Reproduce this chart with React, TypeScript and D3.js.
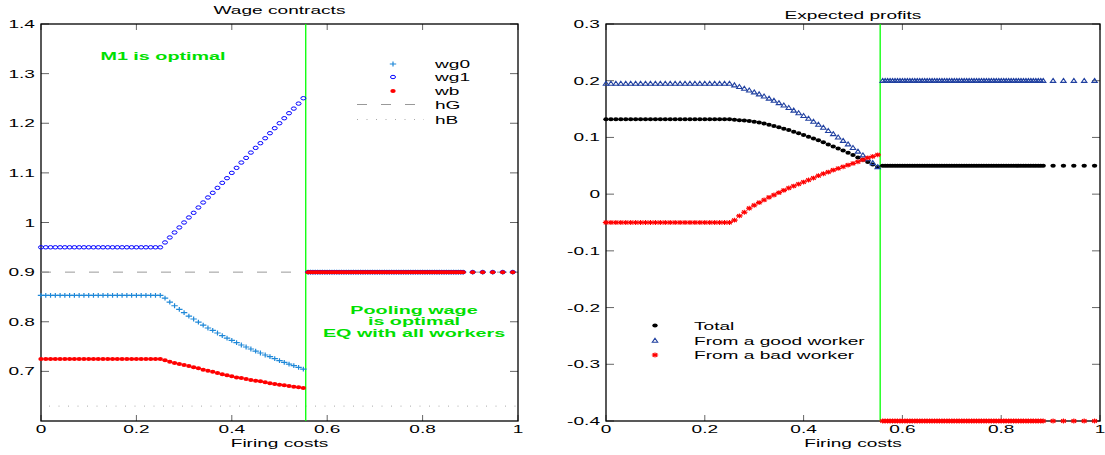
import React from "react";
import * as d3 from "d3";

// ---------- data ----------
const xPre = [0, 0.01, 0.02, 0.03, 0.04, 0.05, 0.06, 0.07, 0.08, 0.09, 0.1, 0.11, 0.12, 0.13, 0.14, 0.15, 0.16, 0.17, 0.18, 0.19, 0.2, 0.21, 0.22, 0.23, 0.24, 0.25];
const xRise = [0.26, 0.27, 0.28, 0.29, 0.3, 0.31, 0.32, 0.33, 0.34, 0.35, 0.36, 0.37, 0.38, 0.39, 0.4, 0.41, 0.42, 0.43, 0.44, 0.45, 0.46, 0.47, 0.48, 0.49, 0.5, 0.51, 0.52, 0.53, 0.54, 0.55];
const xPost = [0.56, 0.565, 0.57, 0.575, 0.58, 0.585, 0.59, 0.595, 0.6, 0.605, 0.61, 0.615, 0.62, 0.625, 0.63, 0.635, 0.64, 0.645, 0.65, 0.655, 0.66, 0.665, 0.67, 0.675, 0.68, 0.685, 0.69, 0.695, 0.7, 0.705, 0.71, 0.715, 0.72, 0.725, 0.73, 0.735, 0.74, 0.745, 0.75, 0.755, 0.76, 0.765, 0.77, 0.775, 0.78, 0.785, 0.79, 0.795, 0.8, 0.805, 0.81, 0.815, 0.82, 0.825, 0.83, 0.835, 0.84, 0.845, 0.85, 0.855, 0.86, 0.865, 0.87, 0.875, 0.88, 0.885, 0.905, 0.926, 0.947, 0.968, 0.989];

// Wage contracts
const wg0Flat = 0.853;
const wg0Rise = [0.8478, 0.8397, 0.8322, 0.8248, 0.8182, 0.8115, 0.8055, 0.7994, 0.7934, 0.7874, 0.7826, 0.7773, 0.7719, 0.7672, 0.7625, 0.7578, 0.7531, 0.7491, 0.7451, 0.741, 0.737, 0.733, 0.7296, 0.7255, 0.7215, 0.7181, 0.7148, 0.7114, 0.7081, 0.7047];
const wg1Flat = 0.95;
const wg1Rise = [0.9598, 0.9698, 0.9799, 0.99, 1.0, 1.0101, 1.0195, 1.0302, 1.0403, 1.0504, 1.0598, 1.0698, 1.0799, 1.0893, 1.1, 1.1101, 1.1208, 1.1302, 1.1409, 1.1504, 1.1598, 1.1698, 1.1799, 1.19, 1.2, 1.2101, 1.2202, 1.2295, 1.2396, 1.2504];
const wbFlat = 0.725;
const wbRise = [0.7222, 0.7195, 0.7169, 0.7148, 0.7128, 0.7108, 0.7081, 0.7061, 0.7034, 0.7014, 0.6994, 0.6967, 0.694, 0.692, 0.69, 0.6879, 0.6866, 0.6846, 0.6826, 0.6812, 0.6799, 0.6779, 0.6759, 0.6745, 0.6732, 0.6718, 0.6705, 0.6692, 0.6678, 0.6665];
const poolingWage = 0.9;
const hG = 0.9;
const hB = 0.63;
const cutoff = 0.555;

// Expected profits
const totalFlat = 0.132;
const totalRise = [0.1311, 0.1305, 0.1298, 0.129, 0.1278, 0.1262, 0.1244, 0.1224, 0.1202, 0.1179, 0.1155, 0.1129, 0.1102, 0.1073, 0.1043, 0.1012, 0.0981, 0.095, 0.0916, 0.0875, 0.0842, 0.0806, 0.0768, 0.0729, 0.0689, 0.0647, 0.0606, 0.0566, 0.0522, 0.0478];
const goodFlat = 0.195;
const goodRise = [0.1922, 0.1893, 0.1863, 0.1831, 0.1798, 0.1763, 0.1726, 0.1688, 0.1649, 0.1608, 0.1566, 0.1522, 0.1477, 0.143, 0.1382, 0.1332, 0.1281, 0.1228, 0.1174, 0.1118, 0.1061, 0.1002, 0.0942, 0.0881, 0.0818, 0.0753, 0.0687, 0.0619, 0.0551, 0.048];
const badFlat = -0.05;
const badRise = [-0.0459, -0.0383, -0.0319, -0.0249, -0.0196, -0.0149, -0.0102, -0.0056, -0.0015, 0.0026, 0.0067, 0.0108, 0.0143, 0.0178, 0.0213, 0.0249, 0.0284, 0.0325, 0.036, 0.0389, 0.0424, 0.0453, 0.0482, 0.0512, 0.0541, 0.057, 0.0605, 0.064, 0.0664, 0.0693];
const totalPost = 0.05;
const goodPost = 0.2;
const badPost = -0.4;

const xTicks = [0, 0.2, 0.4, 0.6, 0.8, 1];
const xTickLabels = ["0", "0.2", "0.4", "0.6", "0.8", "1"];
const leftYTicks = [0.7, 0.8, 0.9, 1.0, 1.1, 1.2, 1.3, 1.4];
const leftYTickLabels = ["0.7", "0.8", "0.9", "1", "1.1", "1.2", "1.3", "1.4"];
const rightYTicks = [-0.4, -0.3, -0.2, -0.1, 0, 0.1, 0.2, 0.3];
const rightYTickLabels = ["-0.4", "-0.3", "-0.2", "-0.1", "0", "0.1", "0.2", "0.3"];

const leftLegend = ["wg0", "wg1", "wb", "hG", "hB"];
const rightLegend = ["Total", "From a good worker", "From a bad worker"];

// ---------- helpers ----------
type Pt = { x: number; y: number };
const series = (flat: number, rise: number[], post: number): Pt[] => [
  ...xPre.map((x) => ({ x, y: flat })),
  ...xRise.map((x, i) => ({ x, y: rise[i] })),
  ...xPost.map((x) => ({ x, y: post })),
];

const FONT = "'Liberation Sans', Arial, Helvetica, sans-serif";
const SX = 1.66;
const GREEN = "#00ff00";
const GREEN_TEXT = "#00e000";

function T({ x, y, anchor = "start", children, bold = false, fill = "#000", sx = SX, size = 11.5 }: any) {
  return (
    <text
      transform={`translate(${x},${y}) scale(${sx},1)`}
      textAnchor={anchor}
      fontFamily={FONT}
      fontSize={size}
      fontWeight={bold ? "bold" : "normal"}
      fill={fill}
    >
      {children}
    </text>
  );
}

const Plus = ({ x, y, c }: any) => (
  <path d={`M${x - 3.2},${y}H${x + 3.2}M${x},${y - 2.4}V${y + 2.4}`} stroke={c} strokeWidth={1.2} fill="none" />
);
const Ring = ({ x, y, c }: any) => <ellipse cx={x} cy={y} rx={2.5} ry={1.7} stroke={c} strokeWidth={1} fill="none" />;
const Dot = ({ x, y, c }: any) => <ellipse cx={x} cy={y} rx={2.7} ry={2} fill={c} />;
const Tri = ({ x, y, c }: any) => (
  <path d={`M${x},${y - 2.3}L${x + 2.7},${y + 1.7}L${x - 2.7},${y + 1.7}Z`} stroke={c} strokeWidth={1.1} fill="none" />
);
const Star = ({ x, y, c }: any) => (
  <path
    d={`M${x - 3.2},${y}H${x + 3.2}M${x},${y - 2.4}V${y + 2.4}M${x - 2.3},${y - 1.8}L${x + 2.3},${y + 1.8}M${x - 2.3},${y + 1.8}L${x + 2.3},${y - 1.8}`}
    stroke={c}
    strokeWidth={1.1}
    fill="none"
  />
);

const TOP = 24;
const BOTTOM = 421;

function Frame({ x, y, yTicks, yLabels }: any) {
  const [x0, x1] = x.range();
  const tickLen = 6;
  return (
    <g>
      {xTicks.map((t, i) => (
        <g key={"xt" + i}>
          <line x1={x(t)} x2={x(t)} y1={BOTTOM} y2={BOTTOM - tickLen} stroke="#666" strokeWidth={1} />
          <line x1={x(t)} x2={x(t)} y1={TOP} y2={TOP + tickLen} stroke="#666" strokeWidth={1} />
          <T x={x(t)} y={BOTTOM + 12} anchor="middle">{xTickLabels[i]}</T>
        </g>
      ))}
      {yTicks.map((t: number, i: number) => (
        <g key={"yt" + i}>
          <line x1={x0} x2={x0 + tickLen + 2} y1={y(t)} y2={y(t)} stroke="#666" strokeWidth={1} />
          <line x1={x1} x2={x1 - tickLen - 2} y1={y(t)} y2={y(t)} stroke="#666" strokeWidth={1} />
          <T x={x0 - 6} y={y(t) + 4} anchor="end">{yLabels[i]}</T>
        </g>
      ))}
      <rect x={x0} y={TOP} width={x1 - x0} height={BOTTOM - TOP} fill="none" stroke="#000" strokeWidth={1.3} />
      <T x={(x0 + x1) / 2} y={BOTTOM + 26} anchor="middle">Firing costs</T>
    </g>
  );
}

export default function App() {
  // Left panel
  const xL = d3.scaleLinear().domain([0, 1]).range([41, 518]);
  const yL = d3.scaleLinear().domain([0.6, 1.4]).range([BOTTOM, TOP]);
  // Right panel
  const xR = d3.scaleLinear().domain([0, 1]).range([606, 1100]);
  const yR = d3.scaleLinear().domain([-0.4, 0.3]).range([BOTTOM, TOP]);

  const wg0 = series(wg0Flat, wg0Rise, poolingWage);
  const wg1 = series(wg1Flat, wg1Rise, poolingWage);
  const wb = series(wbFlat, wbRise, poolingWage);
  const total = series(totalFlat, totalRise, totalPost);
  const good = series(goodFlat, goodRise, goodPost);
  const bad = series(badFlat, badRise, badPost);

  const C_WG0 = "#1e88d8";
  const C_WG1 = "#0000ff";
  const C_RED = "#ff0000";
  const C_GOOD = "#2040a0";

  const legL = { mx: 393, lx0: 357, lx1: 420, tx: 435, ys: [64, 77, 91, 104.5, 119.5] };
  const legR = { mx: 655, tx: 694, ys: [325.5, 340.5, 355] };

  return (
    <svg width={1105} height={455} style={{ position: "absolute", left: 0, top: 0, background: "#fff" }}>
      <rect x={0} y={0} width={1105} height={455} fill="#fff" />

      {/* ===== Left panel ===== */}
      <T x={(xL(0) + xL(1)) / 2} y={14} anchor="middle">Wage contracts</T>
      <Frame x={xL} y={yL} yTicks={leftYTicks} yLabels={leftYTickLabels} />
      <line x1={xL(0)} x2={xL(1)} y1={yL(hG)} y2={yL(hG)} stroke="#999" strokeWidth={1} strokeDasharray="10 14" />
      <line x1={xL(0) + 8} x2={xL(1)} y1={yL(hB)} y2={yL(hB)} stroke="#aaa" strokeWidth={1} strokeDasharray="1 8.5" />
      <line x1={xL(cutoff)} x2={xL(cutoff)} y1={TOP} y2={BOTTOM} stroke={GREEN} strokeWidth={1.3} />
      {wg0.map((p, i) => <Plus key={"a" + i} x={xL(p.x)} y={yL(p.y)} c={C_WG0} />)}
      {wg1.map((p, i) => <Ring key={"b" + i} x={xL(p.x)} y={yL(p.y)} c={C_WG1} />)}
      {wb.map((p, i) => <Dot key={"c" + i} x={xL(p.x)} y={yL(p.y)} c={C_RED} />)}

      {/* left legend */}
      <Plus x={legL.mx} y={legL.ys[0]} c={C_WG0} />
      <Ring x={legL.mx} y={legL.ys[1]} c={C_WG1} />
      <Dot x={legL.mx} y={legL.ys[2]} c={C_RED} />
      <line x1={legL.lx0} x2={legL.lx1} y1={legL.ys[3]} y2={legL.ys[3]} stroke="#999" strokeWidth={1} strokeDasharray="10 14" />
      <line x1={legL.lx0} x2={legL.lx1 + 4} y1={legL.ys[4]} y2={legL.ys[4]} stroke="#aaa" strokeWidth={1} strokeDasharray="1 8.5" />
      {leftLegend.map((s, i) => (
        <T key={"ll" + i} x={legL.tx} y={legL.ys[i] + 4}>{s}</T>
      ))}

      <T x={163} y={60} anchor="middle" bold fill={GREEN_TEXT} sx={1.72}>M1 is optimal</T>
      <T x={414} y={313.5} anchor="middle" bold fill={GREEN_TEXT} sx={1.72}>Pooling wage</T>
      <T x={414} y={325} anchor="middle" bold fill={GREEN_TEXT} sx={1.72}>is optimal</T>
      <T x={414} y={336.5} anchor="middle" bold fill={GREEN_TEXT} sx={1.72}>EQ with all workers</T>

      {/* ===== Right panel ===== */}
      <T x={(xR(0) + xR(1)) / 2} y={19} anchor="middle">Expected profits</T>
      <Frame x={xR} y={yR} yTicks={rightYTicks} yLabels={rightYTickLabels} />
      <line x1={xR(cutoff)} x2={xR(cutoff)} y1={TOP} y2={BOTTOM} stroke={GREEN} strokeWidth={1.3} />
      {total.map((p, i) => <Dot key={"d" + i} x={xR(p.x)} y={yR(p.y)} c="#000" />)}
      {good.map((p, i) => <Tri key={"e" + i} x={xR(p.x)} y={yR(p.y)} c={C_GOOD} />)}
      {bad.map((p, i) => <Star key={"f" + i} x={xR(p.x)} y={yR(p.y)} c={C_RED} />)}

      {/* right legend */}
      <Dot x={legR.mx} y={legR.ys[0]} c="#000" />
      <Tri x={legR.mx} y={legR.ys[1]} c={C_GOOD} />
      <Star x={legR.mx} y={legR.ys[2]} c={C_RED} />
      {rightLegend.map((s, i) => (
        <T key={"rl" + i} x={legR.tx} y={legR.ys[i] + 4}>{s}</T>
      ))}
    </svg>
  );
}
